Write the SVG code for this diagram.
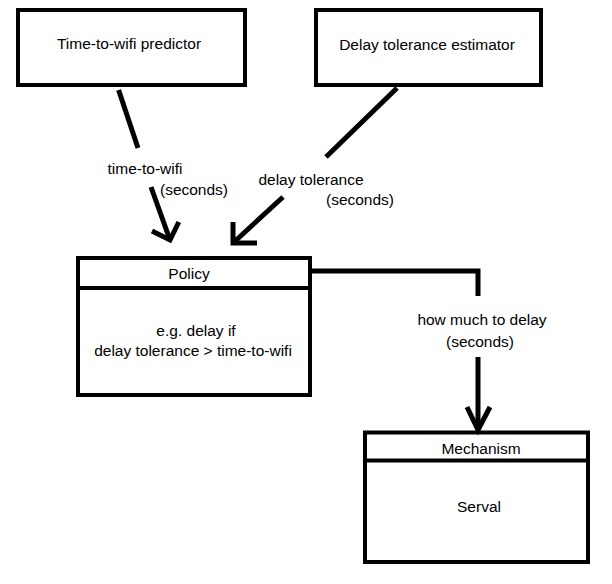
<svg xmlns="http://www.w3.org/2000/svg" width="612" height="584" viewBox="0 0 612 584">
<style>
.box{fill:#fff;stroke:#000;stroke-width:4}
.div{stroke:#000;stroke-width:4}
.t{font-family:"Liberation Sans",Arial,sans-serif;font-size:15.5px;fill:#000;text-anchor:middle}
.c{fill:none;stroke:#000;stroke-width:5;stroke-linejoin:miter}
</style>
<rect width="612" height="584" fill="#fff"/>
<g id="predictor">
<rect class="box" x="18" y="10" width="227" height="75"/>
<text class="t" x="129" y="49">Time-to-wifi predictor</text>
</g>
<g id="estimator">
<rect class="box" x="316" y="10" width="225" height="75"/>
<text class="t" x="427" y="50">Delay tolerance estimator</text>
</g>
<g id="policy">
<rect class="box" x="78" y="258" width="232" height="137"/>
<line class="div" x1="78" y1="288" x2="310" y2="288"/>
<text class="t" x="189" y="279">Policy</text>
<text class="t" x="196" y="336">e.g. delay if</text>
<text class="t" x="193" y="356">delay tolerance &gt; time-to-wifi</text>
</g>
<g id="mechanism">
<rect class="box" x="365" y="432.5" width="223" height="129.5"/>
<line class="div" x1="365" y1="460.5" x2="588" y2="460.5"/>
<text class="t" x="481" y="454">Mechanism</text>
<text class="t" x="479" y="512">Serval</text>
</g>
<g id="connectors">
<line class="c" x1="118.6" y1="90" x2="138" y2="148"/>
<line class="c" x1="151" y1="187" x2="170" y2="240"/>
<polyline class="c" points="152,231 170,240 178.8,222"/>
<line class="c" x1="397" y1="88" x2="326" y2="157"/>
<line class="c" x1="283" y1="197" x2="233" y2="243"/>
<polyline class="c" points="233,222 233,243 257,243"/>
<polyline class="c" points="312,271 478,271 478,296"/>
<line class="c" x1="478" y1="357" x2="478" y2="428"/>
<polyline class="c" points="467,407 478,430 490,407"/>
</g>
<g id="labels">
<text class="t" x="145" y="174">time-to-wifi</text>
<text class="t" x="194" y="195">(seconds)</text>
<text class="t" x="311" y="185">delay tolerance</text>
<text class="t" x="360" y="205">(seconds)</text>
<text class="t" x="482" y="325">how much to delay</text>
<text class="t" x="480" y="347">(seconds)</text>
</g>
</svg>
